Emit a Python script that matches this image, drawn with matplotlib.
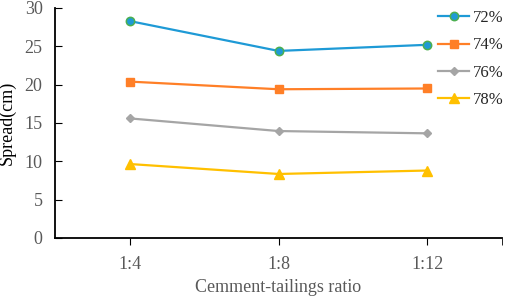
import matplotlib.pyplot as plt

# data
ratios = ['1:4', '1:8', '1:12']
s72 = [28.3, 24.4, 25.2]
s74 = [20.4, 19.4, 19.5]
s76 = [15.6, 13.95, 13.65]
s78 = [9.65, 8.35, 8.8]
labels = ['72%', '74%', '76%', '78%']

plt.rcParams['font.family'] = ['Liberation Serif', 'DejaVu Serif']
gray = '#595959'

fig = plt.figure(figsize=(5.05, 2.96), dpi=100)
ax = fig.add_axes([0.109, 0.196, 0.885, 0.777])
x = range(len(ratios))

ax.plot(x, s72, color='#1E9AD6', lw=1.6, marker='o', ms=6, mfc='#1E9AD6', mec='#4CAF50', mew=1.1, label=labels[0])
ax.plot(x, s74, color='#FF7F27', lw=1.6, marker='s', ms=6, label=labels[1])
ax.plot(x, s76, color='#A5A5A5', lw=1.6, marker='D', ms=4.5, label=labels[2])
ax.plot(x, s78, color='#FFC000', lw=1.6, marker='^', ms=6.5, label=labels[3])

ax.set_xlim(-0.5, 2.5)
ax.set_ylim(0, 30)
ax.set_xticks(list(x))
ax.set_xticklabels(ratios)
ax.set_xticks([2.5], minor=True)
ax.set_yticks([0, 5, 10, 15, 20, 25, 30])
ax.tick_params(axis='y', direction='in', length=5, color='black', labelcolor=gray, labelsize=13, pad=9)
ax.tick_params(axis='x', which='both', direction='out', length=5, color='black', labelcolor=gray, labelsize=13, pad=8)
ax.spines['top'].set_visible(False)
ax.spines['right'].set_visible(False)
ax.spines['left'].set_linewidth(1.3)
ax.spines['bottom'].set_linewidth(1.3)

ax.set_xlabel('Cemment-tailings ratio', color=gray, fontsize=13, labelpad=4)
ax.set_ylabel('Spread(cm)', color='black', fontsize=13, labelpad=6)

# legend sits at the top right, partly over the plot like in the original
leg = fig.legend(loc='upper left', bbox_to_anchor=(0.868, 0.966), frameon=False,
                 fontsize=12, labelspacing=0.68, handlelength=1.85, handletextpad=0.2,
                 borderaxespad=0, borderpad=0)
for t in leg.get_texts():
    t.set_color('#262626')

fig.savefig('out.png', dpi=100)
